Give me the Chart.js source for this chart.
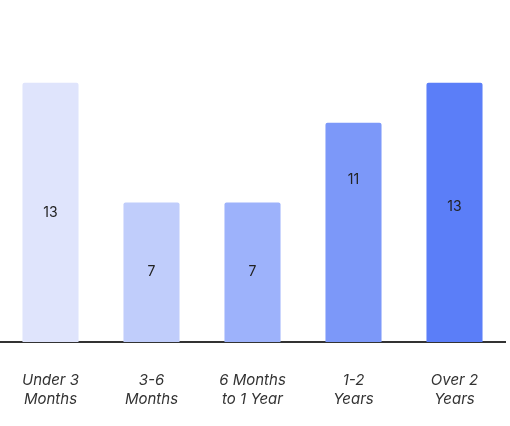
<!DOCTYPE html>
<html>
<head>
<meta charset="utf-8">
<script src="https://cdn.jsdelivr.net/npm/chart.js@4.4.1/dist/chart.umd.min.js"></script>
<style>
html,body{margin:0;padding:0;background:#fff;}
#wrap{width:510px;height:426px;position:relative;}
</style>
</head>
<body>
<div id="wrap"><canvas id="c"></canvas></div>
<script>
const categories = [["Under 3","Months"],["3-6","Months"],["6 Months","to 1 Year"],["1-2","Years"],["Over 2","Years"]];
const values = [13, 7, 7, 11, 13];
const barColors = ["#dfe4fc", "#c0cdfb", "#9db2fb", "#7c98f9", "#5b7ef8"];
const labelFractions = [0.5, 0.5, 0.5, 0.26, 0.48];

const valueLabels = {
  id: 'valueLabels',
  afterDatasetsDraw(chart) {
    const ctx = chart.ctx;
    const meta = chart.getDatasetMeta(0);
    ctx.save();
    ctx.font = '14px Inter, "Noto Sans", sans-serif';
    ctx.fillStyle = '#222';
    ctx.textAlign = 'center';
    ctx.textBaseline = 'middle';
    meta.data.forEach((bar, i) => {
      const y = bar.y + (bar.base - bar.y) * labelFractions[i];
      ctx.fillText(String(values[i]), bar.x, y);
    });
    ctx.restore();
  }
};

new Chart(document.getElementById('c'), {
  type: 'bar',
  data: {
    labels: categories,
    datasets: [{
      data: values,
      backgroundColor: barColors,
      borderRadius: {topLeft: 2, topRight: 2, bottomLeft: 0, bottomRight: 0},
      borderSkipped: 'bottom',
      barPercentage: 0.555,
      categoryPercentage: 1.0
    }]
  },
  options: {
    responsive: true,
    maintainAspectRatio: false,
    animation: false,
    layout: {padding: {top: 43, right: 5, left: 0, bottom: -12}},
    plugins: {legend: {display: false}, tooltip: {enabled: false}},
    scales: {
      x: {
        afterFit(scale) { scale.paddingLeft = 0; scale.paddingRight = 0; },
        grid: {display: false, drawTicks: false},
        border: {display: true, color: '#333', width: 2},
        ticks: {
          padding: 29,
          color: '#333',
          maxRotation: 0,
          autoSkip: false,
          font: {family: 'Inter, "Noto Sans", sans-serif', size: 15, style: 'italic', lineHeight: 1.27}
        }
      },
      y: {
        display: false,
        min: 0,
        max: 15
      }
    }
  },
  plugins: [valueLabels]
});
</script>
</body>
</html>
